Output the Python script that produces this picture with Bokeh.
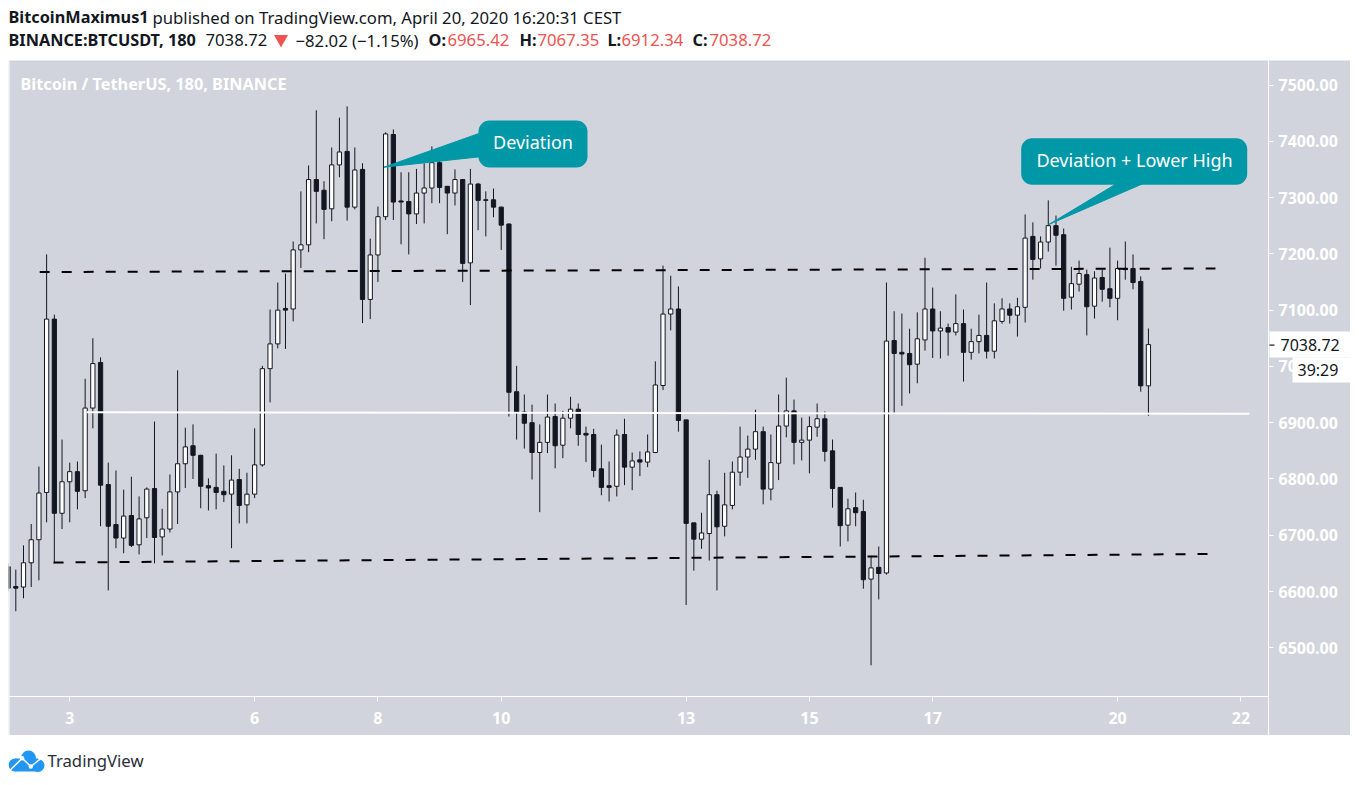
from bokeh.plotting import figure
from bokeh.layouts import column
from bokeh.models import (BoxAnnotation, ColumnDataSource, FixedTicker, Label, LinearAxis, Range1d)
from bokeh.embed import file_html
from bokeh.resources import INLINE

# ---------- data (3h candles, index -1 is the clipped first bar) ----------
opens = [6644, 6609, 6608, 6651, 6692, 6776, 7084, 6739, 6795, 6813,
         6779, 6926, 7007, 6790, 6719, 6695, 6735, 6683, 6731, 6783,
         6697, 6711, 6777, 6827, 6859, 6842, 6788, 6785, 6778, 6773,
         6799, 6754, 6773, 6825, 6996, 7040, 7103, 7102, 7207, 7216,
         7332, 7313, 7280, 7358, 7382, 7283, 7350, 7119, 7198, 7266,
         7412, 7294, 7293, 7271, 7308, 7317, 7362, 7320, 7308, 7332,
         7184, 7324, 7296, 7296, 7283, 7253, 6955, 6919, 6900, 6847,
         6865, 6911, 6860, 6908, 6924, 6881, 6879, 6818, 6788, 6787,
         6879, 6821, 6834, 6830, 6847, 6966, 7093, 7102, 6905, 6722,
         6693, 6703, 6772, 6716, 6753, 6812, 6839, 6853, 6884, 6782,
         6828, 6894, 6921, 6865, 6869, 6892, 6907, 6850, 6785, 6718,
         6749, 6742, 6622, 6643, 6633, 7046, 7025, 7023, 7004, 7047,
         7102, 7063, 7069, 7061, 7076, 7025, 7044, 7055, 7027, 7080,
         7102, 7091, 7105, 7231, 7191, 7221, 7250, 7234, 7123, 7146,
         7163, 7107, 7158, 7138, 7121, 7174, 7174, 7151, 6965.42]
closes = [6606, 6606, 6651, 6692, 6775, 7084, 6739, 6795, 6813, 6778,
          6926, 7005, 6789, 6716, 6695, 6734, 6682, 6729, 6782, 6696,
          6711, 6777, 6827, 6857, 6842, 6787, 6784, 6776, 6772, 6798,
          6753, 6773, 6825, 6996, 7040, 7100, 7100, 7207, 7216, 7332,
          7311, 7279, 7358, 7381, 7283, 7349, 7119, 7198, 7266, 7413,
          7292, 7292, 7271, 7308, 7317, 7362, 7318, 7308, 7332, 7183,
          7324, 7295, 7295, 7283, 7251, 6954, 6919, 6899, 6847, 6865,
          6910, 6859, 6908, 6924, 6879, 6878, 6815, 6785, 6785, 6878,
          6821, 6832, 6830, 6848, 6967, 7093, 7102, 6904, 6721, 6693,
          6704, 6772, 6715, 6754, 6812, 6839, 6853, 6884, 6782, 6829,
          6894, 6921, 6865, 6869, 6893, 6907, 6849, 6783, 6717, 6747,
          6740, 6621, 6642, 6632, 7045, 7023, 7022, 7003, 7049, 7102,
          7063, 7068, 7061, 7076, 7025, 7044, 7055, 7027, 7081, 7102,
          7091, 7106, 7228, 7190, 7221, 7250, 7233, 7121, 7147, 7165,
          7106, 7157, 7137, 7121, 7174, 7172, 7149, 6965.42, 7038.72]
highs = [6650, 6639, 6682, 6720, 6822, 7199, 7092, 6870, 6829, 6831,
         6978, 7050, 7016, 6829, 6815, 6781, 6804, 6769, 6785, 6902,
         6747, 6808, 6993, 6891, 6897, 6843, 6801, 6845, 6824, 6842,
         6818, 6811, 6890, 7001, 7101, 7149, 7165, 7222, 7311, 7357,
         7455, 7329, 7389, 7442, 7462, 7389, 7361, 7227, 7284, 7416,
         7421, 7345, 7345, 7351, 7361, 7391, 7366, 7320, 7350, 7332,
         7351, 7326, 7311, 7316, 7284, 7254, 7001, 6950, 6932, 6897,
         6950, 6934, 6921, 6946, 6934, 6893, 6889, 6861, 6831, 6888,
         6907, 6847, 6849, 6879, 7009, 7179, 7161, 7142, 6905, 6722,
         6740, 6834, 6779, 6811, 6831, 6893, 6877, 6923, 6893, 6879,
         6950, 6980, 6941, 6909, 6911, 6934, 6920, 6870, 6785, 6765,
         6776, 6763, 6661, 6680, 7149, 7098, 7094, 7067, 7096, 7193,
         7140, 7098, 7076, 7128, 7101, 7067, 7092, 7149, 7112, 7121,
         7112, 7122, 7270, 7256, 7231, 7295, 7268, 7245, 7177, 7188,
         7172, 7169, 7172, 7211, 7188, 7222, 7199, 7160, 7067.35]
lows = [6600, 6565, 6588, 6608, 6620, 6723, 6650, 6711, 6723, 6746,
        6766, 6890, 6716, 6602, 6677, 6668, 6679, 6666, 6695, 6650,
        6664, 6705, 6720, 6784, 6800, 6748, 6744, 6746, 6759, 6677,
        6721, 6721, 6766, 6822, 6936, 7032, 7031, 7080, 7175, 7203,
        7254, 7226, 7258, 7336, 7259, 7279, 7077, 7084, 7150, 7260,
        7260, 7217, 7199, 7253, 7254, 7290, 7290, 7235, 7286, 7150,
        7109, 7242, 7231, 7265, 7207, 6911, 6870, 6854, 6799, 6741,
        6846, 6819, 6837, 6890, 6859, 6830, 6803, 6771, 6760, 6769,
        6789, 6780, 6805, 6821, 6846, 6958, 7064, 6884, 6576, 6637,
        6676, 6655, 6602, 6698, 6746, 6788, 6802, 6834, 6755, 6762,
        6798, 6874, 6826, 6833, 6810, 6875, 6831, 6749, 6680, 6689,
        6716, 6605, 6469, 6586, 6630, 6915, 6930, 6952, 6970, 7028,
        7015, 7014, 7019, 7055, 6973, 7012, 7023, 7014, 7014, 7076,
        7076, 7053, 7078, 7154, 7174, 7204, 7179, 7099, 7101, 7133,
        7055, 7085, 7115, 7105, 7082, 7154, 7137, 6955, 6912.34]
bars = list(range(-1, len(opens) - 1))

day_labels = ["3", "6", "8", "10", "13", "15", "17", "20", "22"]
day_bars = [7, 31, 47, 63, 87, 103, 119, 143, 159]
price_ticks = [6500, 6600, 6700, 6800, 6900, 7000, 7100, 7200, 7300, 7400, 7500]

upper_bars, upper_prices = [3.1, 155.7], [7167.7, 7174]
lower_bars, lower_prices = [4.9, 154.8], [6651.5, 6666.6]
mid_bars, mid_prices = [9.2, 160.1], [6918.6, 6915.8]

last_price = 7038.72
countdown = "39:29"

# ---------- styling ----------
PANEL = "#d1d4dc"
INK = "#131722"
TEAL = "#0097a7"
RED = "#ef5350"
FONT = "Noto Sans"

PX_PER_BAR = 7.705
BAR0_PX = 15.3
PX_PER_USD = 0.5628
Y7500_PX = 84.5


def bx(px):
    return (px - BAR0_PX) / PX_PER_BAR


def py(px):
    return 7500 - (px - Y7500_PX) / PX_PER_USD


# ---------- main chart: the frame is the whole grey panel, the axes sit at fixed places in it ----------
p = figure(width=1342, height=675, output_backend="svg", toolbar_location=None,
           x_range=Range1d(bx(8), bx(1350)), y_range=Range1d(py(735), py(60)),
           x_axis_location=None, y_axis_location=None, min_border=0,
           background_fill_color=PANEL, border_fill_color="white", outline_line_color=None)
p.grid.visible = False

yaxis = LinearAxis(ticker=FixedTicker(ticks=price_ticks), fixed_location=bx(1268), bounds=(py(735), py(60)),
                   major_label_overrides={t: f"{t}.00" for t in price_ticks}, major_label_standoff=5)
xaxis = LinearAxis(ticker=FixedTicker(ticks=day_bars), fixed_location=py(696), bounds=(bx(8), bx(1268)),
                   major_label_overrides=dict(zip(day_bars, day_labels)), major_label_standoff=10)
for ax in (xaxis, yaxis):
    ax.axis_line_color = "white"
    ax.axis_line_width = 1
    ax.major_tick_line_color = "white"
    ax.major_tick_out = 5
    ax.major_tick_in = 0
    ax.minor_tick_line_color = None
    ax.major_label_text_color = "white"
    ax.major_label_text_font = FONT
    ax.major_label_text_font_size = "16px"
    ax.major_label_text_font_style = "bold"
p.add_layout(yaxis, "right")
p.add_layout(xaxis, "below")

src = ColumnDataSource(dict(
    bar=bars, o=opens, c=closes, h=highs, l=lows,
    fill=["white" if b >= a else INK for a, b in zip(opens, closes)],
))
p.segment("bar", "h", "bar", "l", source=src, line_color=INK, line_width=1)
p.vbar("bar", top="o", bottom="c", width=0.55, source=src, fill_color="fill", line_color=INK, line_width=1)

for xs, ys in ((upper_bars, upper_prices), (lower_bars, lower_prices)):
    p.line(xs, ys, line_color="black", line_width=2, line_dash=[10, 12])
p.line(mid_bars, mid_prices, line_color="white", line_width=2)

# white strip left of the panel
p.add_layout(BoxAnnotation(left=bx(7), right=bx(9), top=py(50), bottom=py(745), fill_color="white",
                           fill_alpha=1, line_color=None))

p.add_layout(Label(x=bx(20), y=py(83.5), text="Bitcoin / TetherUS, 180, BINANCE", text_color="white",
                   text_font=FONT, text_font_size="16.3px", text_font_style="bold", text_baseline="middle"))

# callouts
p.patch([bx(383.5), bx(482), bx(482)], [py(166.7), py(131.7), py(156)], fill_color=TEAL, line_color=TEAL, line_width=1)
p.add_layout(BoxAnnotation(left=bx(478), right=bx(587), top=py(120), bottom=py(167), fill_color=TEAL, fill_alpha=1,
                           line_color=None, border_radius=11))
p.add_layout(Label(x=bx(532.5), y=py(141), text="Deviation", text_color="white", text_font=FONT,
                   text_font_size="18px", text_align="center", text_baseline="middle"))
p.patch([bx(1048.3), bx(1118), bx(1145)], [py(224), py(182), py(182)], fill_color=TEAL, line_color=TEAL, line_width=1)
p.add_layout(BoxAnnotation(left=bx(1020.7), right=bx(1246.7), top=py(137.7), bottom=py(184.3), fill_color=TEAL,
                           fill_alpha=1, line_color=None, border_radius=11))
p.add_layout(Label(x=bx(1134), y=py(159), text="Deviation + Lower High", text_color="white", text_font=FONT,
                   text_font_size="18px", text_align="center", text_baseline="middle"))

# price tag and countdown on the axis
p.add_layout(BoxAnnotation(left=bx(1269), right=bx(1350), top=py(331), bottom=py(357), fill_color="white",
                           fill_alpha=1, line_color=None))
p.add_layout(BoxAnnotation(left=bx(1292), right=bx(1350), top=py(357), bottom=py(382), fill_color="white",
                           fill_alpha=1, line_color=None))
p.add_layout(BoxAnnotation(left=bx(1269), right=bx(1274), top=py(344), bottom=py(345.2), fill_color=INK,
                           fill_alpha=1, line_color=None))
p.add_layout(Label(x=bx(1280), y=py(344), text=f"{last_price:.2f}", text_color=INK, text_font=FONT,
                   text_font_size="16px", text_baseline="middle"))
p.add_layout(Label(x=bx(1297), y=py(369), text=countdown, text_color=INK, text_font=FONT,
                   text_font_size="16px", text_baseline="middle"))

# ---------- header: starts at the very top of the page ----------
head = figure(width=1342, height=60, output_backend="svg", toolbar_location=None,
              x_range=Range1d(8, 1350), y_range=Range1d(60, 0), min_border=0,
              x_axis_location=None, y_axis_location=None,
              background_fill_color="white", border_fill_color="white", outline_line_color=None)
head.grid.visible = False
head.patch([273.5, 287.5, 280.5], [34.5, 34.5, 47], fill_color=RED, line_color=None)


def htext(x, y, text, color=INK, bold=False):
    head.add_layout(Label(x=x, y=y, text=text, text_color=color, text_font=FONT,
                          text_font_size="16.3px" if bold else "16.7px",
                          text_font_style="bold" if bold else "normal", text_baseline="middle"))


htext(8, 16.5, "BitcoinMaximus1", bold=True)
htext(152, 16.5, "published on TradingView.com, April 20, 2020 16:20:31 CEST")
htext(8, 39.5, "BINANCE:BTCUSDT, 180", bold=True)
htext(205, 39.5, "7038.72")
htext(295, 39.5, "\u221282.02 (\u22121.15%)")
htext(428, 39.5, "O:", bold=True)
htext(447, 39.5, "6965.42", RED)
htext(519, 39.5, "H:", bold=True)
htext(537, 39.5, "7067.35", RED)
htext(607, 39.5, "L:", bold=True)
htext(621, 39.5, "6912.34", RED)
htext(692, 39.5, "C:", bold=True)
htext(709, 39.5, "7038.72", RED)

# ---------- footer with logo ----------
foot = figure(width=1342, height=42, output_backend="svg", toolbar_location=None,
              x_range=Range1d(8, 1350), y_range=Range1d(777, 735), min_border=0,
              x_axis_location=None, y_axis_location=None,
              background_fill_color="white", border_fill_color="white", outline_line_color=None)
foot.grid.visible = False
LOGO = "#2196f3"
foot.circle([14.5, 28, 37.5], [764.5, 757.5, 765], radius=[6.5, 7.5, 6.5], fill_color=LOGO, line_color=None)
foot.patch([14.5, 37.5, 37.5, 14.5], [758, 758, 771, 771], fill_color=LOGO, line_color=None)
foot.line([9, 21.7, 30.3, 41.7], [770.3, 757.7, 766, 757], line_color="white", line_width=1.5)
foot.circle([21.7, 30.3], [757.7, 766], radius=2.2, fill_color="white", line_color=None)
foot.add_layout(Label(x=47, y=759.5, text="TradingView", text_color="#2a2e39", text_font=FONT,
                      text_font_size="16.7px", text_baseline="middle"))

layout = column(head, p, foot, spacing=0, margin=(0, 0, 0, 8))
open("out.html", "w").write(file_html(layout, INLINE))
